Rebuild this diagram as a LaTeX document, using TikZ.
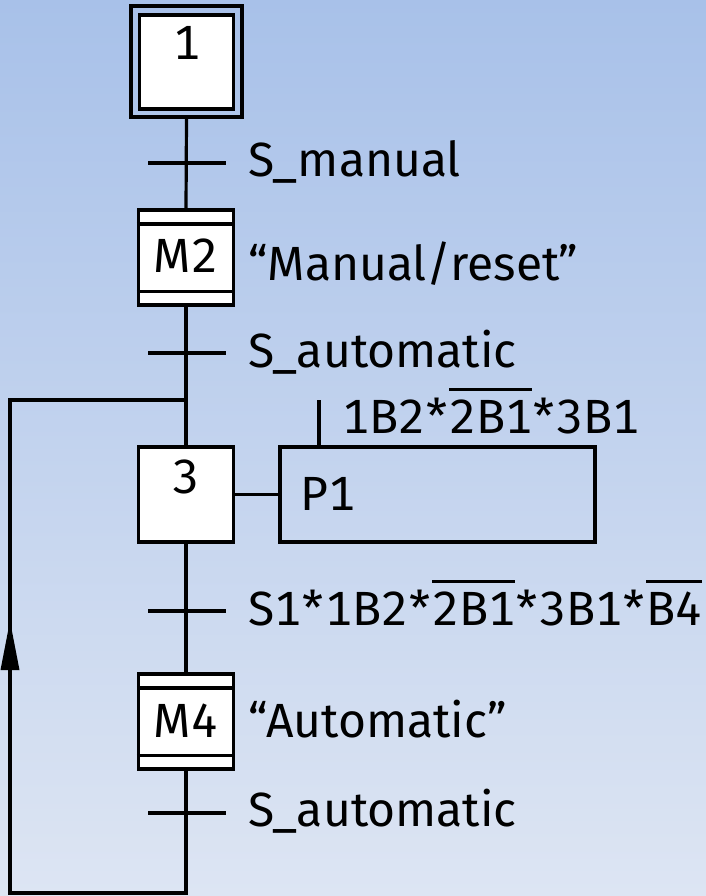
\documentclass[tikz,border=0pt]{standalone}
\usepackage{fontspec}
\setmainfont[Numbers=Monospaced]{Fira Sans}
\usetikzlibrary{calc}
\newsavebox\ovlbox
% overlined signal name (negated input)
\newcommand\ovl[1]{\sbox\ovlbox{#1}\rlap{\rule[0.88em]{\wd\ovlbox}{0.065em}}\usebox\ovlbox}
% AND operator with a little air round it
\newcommand\andop{\kern1.5pt*\kern1.5pt}
\definecolor{bgtop}{RGB}{168,193,233}
\definecolor{bgbot}{RGB}{221,229,243}
\tikzset{
  wire/.style={line width=3.2pt},
  stepbox/.style={draw, line width=3.2pt, fill=white, minimum width=95pt, minimum height=95pt, inner sep=0pt},
  macrobox/.style={stepbox},
  actionbox/.style={draw, line width=3.2pt, minimum width=315pt, minimum height=95pt, inner sep=0pt},
  lbl/.style={anchor=base west, inner sep=0pt, font=\fontsize{48}{56}\selectfont},
  num/.style={anchor=base, inner sep=0pt, font=\fontsize{48}{56}\selectfont},
}
\begin{document}
\begin{tikzpicture}[x=1pt,y=-1pt]
\shade[top color=bgtop, bottom color=bgbot] (0,0) rectangle (706,896);
\useasboundingbox (0,0) rectangle (706,896);

% initial step (double frame)
\node[draw, line width=3.2pt, minimum width=111pt, minimum height=111pt, inner sep=0pt] (s1o) at (186.5,61.5) {};
\node[stepbox, minimum width=94pt, minimum height=94pt] (s1) at (186.5,62) {};
\node[num] at (186.5,60) {1};

% macro step M2
\node[macrobox] (m2) at (186,257.5) {};
\draw[wire] ([yshift=-15.5pt]m2.north west) -- ([yshift=-15.5pt]m2.north east);
\draw[wire] ([yshift=15.5pt]m2.south west) -- ([yshift=15.5pt]m2.south east);
\node[num] at (186,272) {M2};

% step 3 with its action
\node[stepbox] (s3) at (186,494.5) {};
\node[num] at (186,493) {3};
\node[actionbox] (p1) at (437.5,494.5) {};
\node[lbl] at (300,510) {P1};

% macro step M4
\node[macrobox] (m4) at (186,721.5) {};
\draw[wire] ([yshift=-15.5pt]m4.north west) -- ([yshift=-15.5pt]m4.north east);
\draw[wire] ([yshift=15.5pt]m4.south west) -- ([yshift=15.5pt]m4.south east);
\node[num] at (186,737) {M4};

% transitions and loop points
\coordinate (t1) at (186,163);
\coordinate (t2) at (186,353);
\coordinate (j) at (186,400);
\coordinate (t3) at (186,611);
\coordinate (t4) at (186,813);
\coordinate (b) at (186,893);
\coordinate (bl) at (10,893);
\coordinate (jl) at (10,400);
\coordinate (q) at (319,400);

% main sequence line
\draw[wire] (s1o.south) -- (m2.north);
\draw[wire] (m2.south) -- (s3.north);
\draw[wire] (s3.south) -- (m4.north);
\draw[wire] (m4.south) -- (b) -- (bl) -- (jl) -- (j);
\draw[wire] (s3.east) -- (p1.west);
\draw[wire] (q) -- (q |- p1.north);

% return arrow
\fill (10,621) -- (19.5,670) -- (0.5,670) -- cycle;

% transition bars
\foreach \t in {t1,t2,t3,t4}
  \draw[wire] ([xshift=-38pt]\t) -- ([xshift=40pt]\t);

% labels
\node[lbl] at (248,176) {S\_manual};
\node[lbl] at (248,280) {“Manual/reset”};
\node[lbl] at (248,367) {S\_automatic};
\node[lbl] at (342,433) {1B2\andop\ovl{2B1}\andop3B1};
\node[lbl] at (248,625) {S1\andop1B2\andop\ovl{2B1}\andop3B1\andop\ovl{B4}};
\node[lbl] at (248,737) {“Automatic”};
\node[lbl] at (248,826) {S\_automatic};
\end{tikzpicture}
\end{document}
